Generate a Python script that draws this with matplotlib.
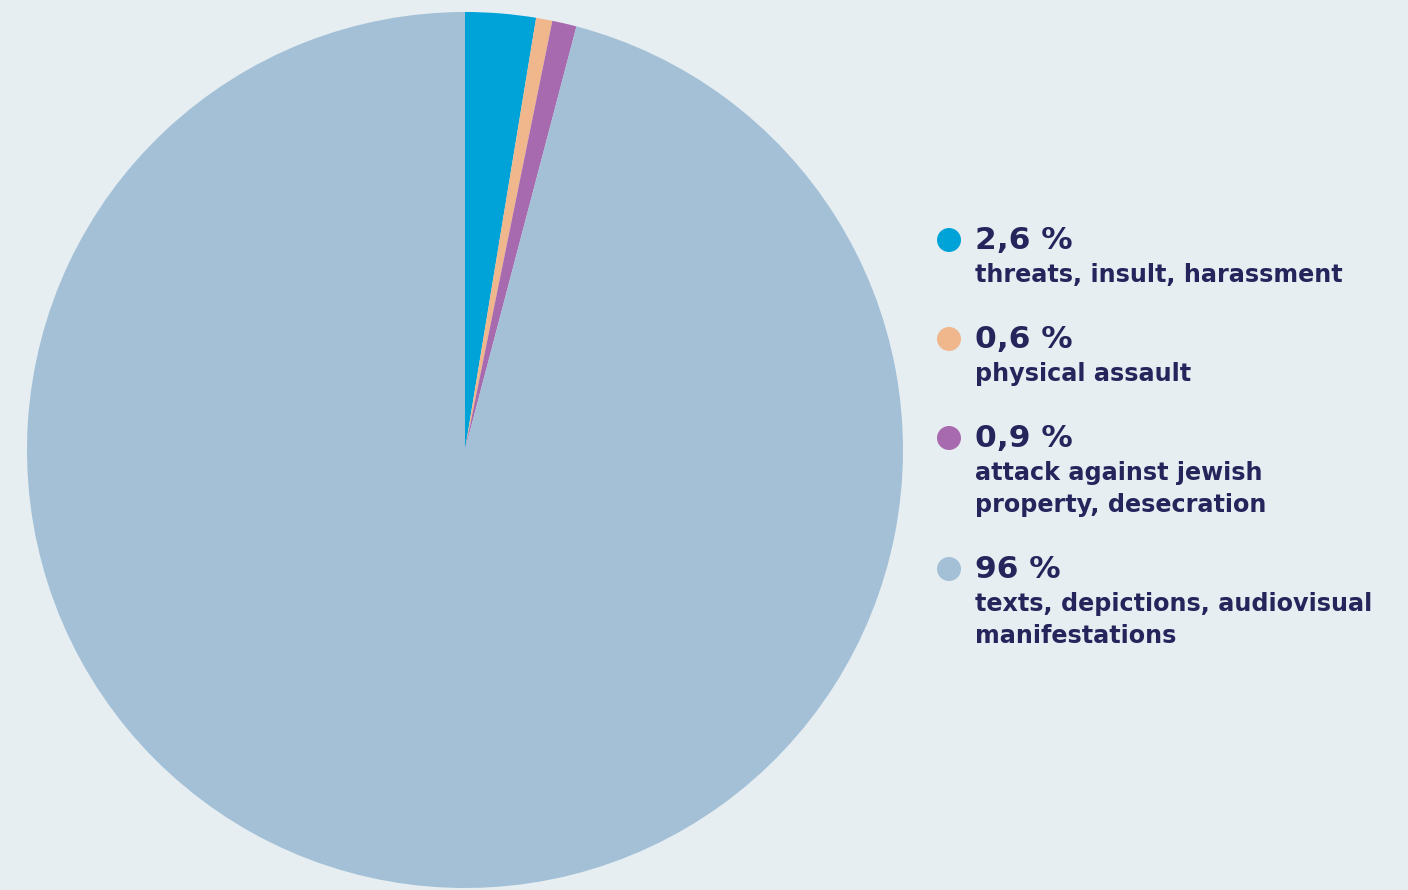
import matplotlib.pyplot as plt
from matplotlib.patches import Ellipse

values = [2.6, 0.6, 0.9, 96]
pct_labels = ['2,6 %', '0,6 %', '0,9 %', '96 %']
descriptions = [
    ['threats, insult, harassment'],
    ['physical assault'],
    ['attack against jewish', 'property, desecration'],
    ['texts, depictions, audiovisual', 'manifestations'],
]
colors = ['#00A3D8', '#F0B68C', '#A86AAF', '#A3C0D7']

W, H = 1408, 890
bg = '#E6EEF2'
ink = '#25255C'

fig = plt.figure(figsize=(W / 100, H / 100), dpi=100, facecolor=bg)

# pie: centre (465, 450) px, radius 438 px
cx, cy, r = 465, 450, 438
ax = fig.add_axes([(cx - r) / W, (H - cy - r) / H, 2 * r / W, 2 * r / H])
ax.set_facecolor(bg)
ax.pie(values, colors=colors, startangle=90, counterclock=False, radius=1,
       wedgeprops=dict(linewidth=0))
ax.set_xlim(-1, 1)
ax.set_ylim(-1, 1)
ax.set_aspect('equal')
ax.axis('off')


def fx(x):
    return x / W


def fy(y):
    return 1 - y / H


# legend
y = 240
for pct, desc, col in zip(pct_labels, descriptions, colors):
    fig.add_artist(Ellipse((fx(949), fy(y)), 24 / W, 24 / H,
                           transform=fig.transFigure, color=col, lw=0))
    fig.text(fx(975), fy(y + 1), pct, fontsize=22.5, fontweight='bold',
             color=ink, va='center', ha='left', family='DejaVu Sans')
    for i, line in enumerate(desc):
        fig.text(fx(975), fy(y + 35 + 32 * i), line, fontsize=17.2,
                 fontweight='bold', color=ink, va='center', ha='left',
                 family='DejaVu Sans')
    y += 67 + 32 * len(desc)

fig.savefig('out.png', dpi=100, facecolor=bg)
